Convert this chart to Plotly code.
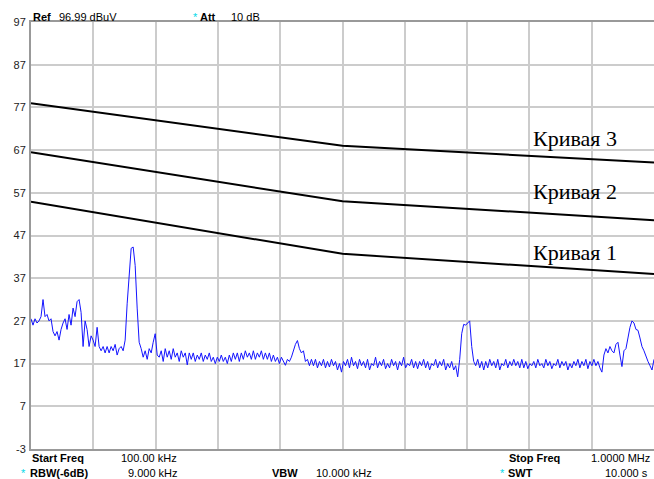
import numpy as np
import plotly.graph_objects as go

# ---- data ----
start_khz = 100
stop_khz = 1000

level_dbuv = [
    27.5, 26, 27.5, 26.5, 27, 28, 32, 28, 28.5, 27, 27.5, 24.5, 23.5, 24.5, 22.5,
    25, 26.5, 27.5, 25, 28.5, 26, 30, 28, 31.5, 32, 29, 21, 27, 25, 21,
    23.5, 22.5, 21, 25.5, 21, 20, 21, 19.5, 21, 19.5, 21, 20, 21.5, 19, 20.5,
    21, 20, 22.5, 31, 39, 44, 44.3, 40, 30, 22, 20.5, 18.5, 20, 18, 20.5,
    19.5, 22, 24, 19, 18.5, 20, 17.5, 20.5, 18.5, 20, 18, 20.5, 18.5, 19.5, 17.5,
    20, 18.5, 19.5, 16.7, 19.5, 18, 19.5, 17.5, 19, 18, 19.5, 17.5, 19, 18, 19.5,
    17.5, 18.5, 17, 18.5, 17.5, 19, 17.5, 18.5, 17, 19, 17.5, 19.5, 18, 19.5, 17.5,
    19.5, 18, 20, 18.5, 19.5, 18, 20, 18, 19.5, 18.5, 20, 18, 19.5, 18, 19.5,
    17.5, 19, 17.5, 18.5, 17, 18.5, 17.5, 16.6, 18, 17.5, 18.5, 20, 21.5, 22.4, 20.5,
    19.5, 20, 17.5, 18, 16.5, 18, 16.5, 18, 16, 17.5, 16.5, 18, 16, 17.5, 16.2,
    18, 16.5, 17.5, 15.5, 17, 15, 17.5, 16.5, 18, 16, 18.5, 16.5, 17.5, 15.8, 18,
    16.5, 17.5, 16, 18, 15.5, 17, 16.5, 18.5, 16, 17.5, 16.5, 18, 15.8, 17, 16,
    18, 16.5, 17.5, 15.5, 17.5, 16.5, 18.5, 16, 17, 16.5, 18, 16, 17.5, 15.8, 17.5,
    16.5, 18, 16, 17.5, 15.5, 17, 16.5, 18, 16, 17.5, 16.5, 18, 15.5, 17, 16,
    17.5, 15.5, 16.5, 13.9, 18, 24, 26.2, 26, 26.5, 27, 21, 17.5, 16.5, 18, 16,
    17.5, 15.5, 17.5, 16, 18, 16.5, 17.5, 16, 18, 15.5, 17, 16.5, 18, 16, 17.5,
    16.5, 18, 16.5, 17.5, 16, 18, 16, 17.5, 15.8, 17, 16.5, 17.5, 16, 18, 16.5,
    17, 16, 18, 16.5, 17.5, 15.8, 17, 16.5, 18, 16, 17.5, 16.5, 17.5, 15.5, 17,
    16, 17.5, 16.5, 18, 16, 17.5, 16.5, 18, 15.8, 17.5, 16.5, 18, 16.5, 17.5, 16,
    15, 19, 20.5, 19.5, 21, 20, 19.5, 21.5, 22, 19, 16.3, 20, 20.5, 23, 25.5,
    27, 26.5, 25, 24.8, 23, 21, 20, 18.5, 17.5, 16.5, 15.5, 18,
]

limit_freq_khz = [100, 550, 1000]
curve1_dbuv = [54.9, 42.7, 38.0]
curve2_dbuv = [66.5, 55.0, 50.6]
curve3_dbuv = [78.0, 68.0, 64.1]
curve_names = ["Кривая 1", "Кривая 2", "Кривая 3"]
curve_label_db = [43.1, 57.2, 69.8]
curve_label_khz = 822

y_ticks = [-3, 7, 17, 27, 37, 47, 57, 67, 77, 87, 97]

freq_khz = np.linspace(start_khz, stop_khz, len(level_dbuv))

fig = go.Figure()
fig.add_trace(go.Scatter(x=freq_khz, y=level_dbuv, mode="lines",
                         line=dict(color="#1414ff", width=1), showlegend=False,
                         hoverinfo="skip"))
for ys in (curve1_dbuv, curve2_dbuv, curve3_dbuv):
    fig.add_trace(go.Scatter(x=limit_freq_khz, y=ys, mode="lines",
                             line=dict(color="black", width=2), showlegend=False,
                             hoverinfo="skip"))

for name, yv in zip(curve_names, curve_label_db):
    fig.add_annotation(x=curve_label_khz, y=yv, xref="x", yref="y", text=name,
                       showarrow=False, xanchor="left", yanchor="middle",
                       font=dict(family="Liberation Serif", size=22, color="black"))

L, T, W, H = 31, 22, 623, 427


def px(xp):
    return (xp - L) / W


def py(yp):
    return (T + H - yp) / H


hdr = [
    ("<b>Ref</b>", 32, 17, "black"),
    ("96.99 dBuV", 58, 17, "black"),
    ("*", 192, 17, "#00d8e8"),
    ("<b>Att</b>", 199, 17, "black"),
    ("10 dB", 230, 17, "black"),
    ("<b>Start Freq</b>", 31, 458, "black"),
    ("100.00 kHz", 120, 458, "black"),
    ("<b>Stop Freq</b>", 508, 458, "black"),
    ("1.0000 MHz", 590, 458, "black"),
    ("*", 20, 473, "#00d8e8"),
    ("<b>RBW(-6dB)</b>", 29, 473, "black"),
    ("9.000 kHz", 127, 473, "black"),
    ("<b>VBW</b>", 271, 473, "black"),
    ("10.000 kHz", 315, 473, "black"),
    ("*", 499, 473, "#00d8e8"),
    ("<b>SWT</b>", 507, 473, "black"),
    ("10.000 s", 604, 473, "black"),
]
for txt, xp, yp, col in hdr:
    fig.add_annotation(x=px(xp), y=py(yp), xref="paper", yref="paper", text=txt,
                       showarrow=False, xanchor="left", yanchor="middle",
                       font=dict(family="Liberation Sans", size=11, color=col),
                       borderpad=0)

fig.update_xaxes(range=[start_khz, stop_khz], dtick=90, tick0=start_khz,
                 showticklabels=False, showgrid=True, gridcolor="#cccccc", gridwidth=1.5,
                 zeroline=False, showline=True, linecolor="#999999", linewidth=2,
                 mirror=True, ticks="")
fig.update_yaxes(range=[-3, 97], tickvals=y_ticks, ticktext=[str(v) for v in y_ticks],
                 showgrid=True, gridcolor="#cccccc", gridwidth=1.5, zeroline=False,
                 showline=True, linecolor="#999999", linewidth=2, ticks="",
                 ticklabelstandoff=1,
                 tickfont=dict(family="Liberation Sans", size=11, color="#222222"))
fig.update_layout(width=654, height=479, margin=dict(l=L, r=0, t=T, b=30),
                  plot_bgcolor="white", paper_bgcolor="white")

fig.write_html("out.html", config={"responsive": False, "displayModeBar": False},
               post_script="document.body.style.margin='0';document.body.style.overflow='hidden';")
